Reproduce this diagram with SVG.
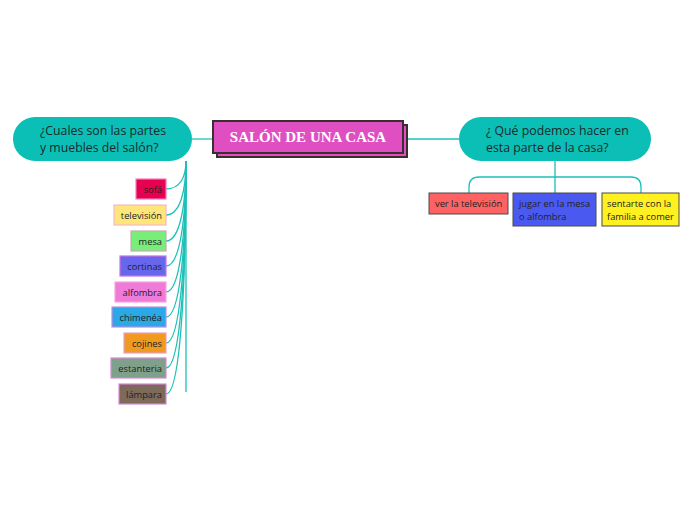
<svg xmlns="http://www.w3.org/2000/svg" width="696" height="520" viewBox="0 0 696 520">
<style>
.bg{fill:#ffffff}
.conn{fill:none;stroke:#1cc0b8;stroke-width:1.3}
.main{fill:#e04fc2;stroke:#3a2e2e;stroke-width:2}
.mtext{font-family:"Liberation Serif",serif;font-weight:bold;font-size:15px;fill:#ffffff}
.topic{fill:#0bbfb6}
.ttext{font-family:"Open Sans","Noto Sans",sans-serif;font-size:12.3px;fill:#1c2a2a}
.lchild{stroke-width:1.2}
.ltext{font-family:"Open Sans","Noto Sans",sans-serif;font-size:9.3px;fill:#222222;text-anchor:end}
.rchild{stroke:#4a4a4a;stroke-width:1}
.rtext{font-family:"Open Sans","Noto Sans",sans-serif;font-size:9.3px;fill:#222222}
</style>
<rect class="bg" x="0" y="0" width="696" height="520"/>
<g id="connectors">
<line class="conn" x1="192" y1="139" x2="213" y2="139"/>
<line class="conn" x1="407" y1="139" x2="459" y2="139"/>
<path class="conn" d="M186,161 L186,392"/>
<path class="conn" d="M166,189 C180,189 186,177 186,161"/>
<path class="conn" d="M166,215 C180,215 186,191 186,161"/>
<path class="conn" d="M166,241 C180,241 186,205 186,161"/>
<path class="conn" d="M166,266 C180,266 186,219 186,161"/>
<path class="conn" d="M166,292 C180,292 186,233 186,161"/>
<path class="conn" d="M166,317 C180,317 186,247 186,161"/>
<path class="conn" d="M166,343 C180,343 186,261 186,161"/>
<path class="conn" d="M166,368 C180,368 186,275 186,161"/>
<path class="conn" d="M166,394 C180,394 186,289 186,161"/>
<path class="conn" d="M555,161 L555,193"/>
<path class="conn" d="M469,193 L469,187 Q469,177 479,177 L631,177 Q641,177 641,187 L641,193"/>
</g>
<g id="central">
<rect x="217" y="125" width="190" height="32" fill="#e04fc2" stroke="#3a2e2e" stroke-width="2"/>
<rect class="main" x="213" y="121" width="190" height="32"/>
<text class="mtext" x="308" y="142" text-anchor="middle">SALÓN DE UNA CASA</text>
</g>
<g id="topic-left">
<rect class="topic" x="13" y="117" width="179" height="44" rx="22"/>
<text class="ttext" x="40" y="135">¿Cuales son las partes</text>
<text class="ttext" x="40" y="152">y muebles del salón?</text>
</g>
<g id="topic-right">
<rect class="topic" x="459" y="117" width="192" height="44" rx="22"/>
<text class="ttext" x="486" y="135">¿ Qué podemos hacer en</text>
<text class="ttext" x="486" y="152">esta parte de la casa?</text>
</g>
<g id="sofa">
<rect class="lchild" x="136" y="179" width="30" height="20" fill="#e6004f" stroke="#f27cc2"/>
<text class="ltext" x="162" y="193">sofá</text>
</g>
<g id="television">
<rect class="lchild" x="114" y="205" width="52" height="20" fill="#ffe67a" stroke="#f5b8c8"/>
<text class="ltext" x="162" y="219">televisión</text>
</g>
<g id="mesa">
<rect class="lchild" x="131" y="231" width="35" height="20" fill="#78ee78" stroke="#c8a8b8"/>
<text class="ltext" x="162" y="245">mesa</text>
</g>
<g id="cortinas">
<rect class="lchild" x="120" y="256" width="46" height="20" fill="#6767ee" stroke="#c672e2"/>
<text class="ltext" x="162" y="270">cortinas</text>
</g>
<g id="alfombra">
<rect class="lchild" x="115" y="282" width="51" height="20" fill="#f07ad8" stroke="#f3a4e0"/>
<text class="ltext" x="162" y="296">alfombra</text>
</g>
<g id="chimenea">
<rect class="lchild" x="112" y="307" width="54" height="20" fill="#2aa8e8" stroke="#c08ee0"/>
<text class="ltext" x="162" y="321">chimenéa</text>
</g>
<g id="cojines">
<rect class="lchild" x="124" y="333" width="42" height="20" fill="#f09a20" stroke="#e4a0d0"/>
<text class="ltext" x="162" y="347">cojines</text>
</g>
<g id="estanteria">
<rect class="lchild" x="111" y="358" width="55" height="20" fill="#7fa08a" stroke="#d888d4"/>
<text class="ltext" x="162" y="372">estanteria</text>
</g>
<g id="lampara">
<rect class="lchild" x="119" y="384" width="47" height="20" fill="#7d6a5a" stroke="#d888d4"/>
<text class="ltext" x="162" y="398">lámpara</text>
</g>
<g id="ver-television">
<rect class="rchild" x="429" y="193" width="79" height="21" fill="#ff6262"/>
<text class="rtext" x="435" y="207">ver la televisión</text>
</g>
<g id="jugar">
<rect class="rchild" x="513" y="193" width="83" height="33" fill="#4a5af0"/>
<text class="rtext" x="519" y="207">jugar en la mesa</text>
<text class="rtext" x="519" y="220">o alfombra</text>
</g>
<g id="sentarte">
<rect class="rchild" x="602" y="193" width="77" height="33" fill="#fff020"/>
<text class="rtext" x="607" y="207">sentarte con la</text>
<text class="rtext" x="607" y="220">familia a comer</text>
</g>
</svg>
